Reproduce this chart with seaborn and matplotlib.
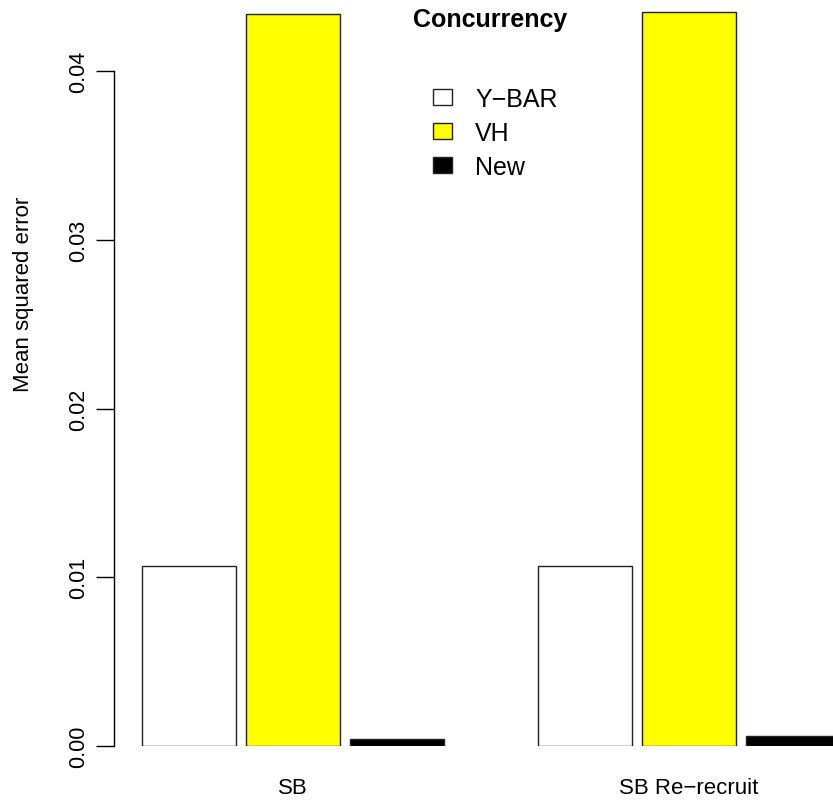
import matplotlib
matplotlib.use("Agg")
import matplotlib.pyplot as plt
import seaborn as sns
import pandas as pd

# values
groups = ["SB", "SB Re\u2212recruit"]
methods = ["Y\u2212BAR", "VH", "New"]
ybar_mse = [0.01068, 0.01068]
vh_mse = [0.04338, 0.04350]
new_mse = [0.00042, 0.00059]
colors = ["white", "yellow", "black"]

rows = []
for m, vals in zip(methods, [ybar_mse, vh_mse, new_mse]):
    for g, v in zip(groups, vals):
        rows.append({"group": g, "method": m, "mse": v})
df = pd.DataFrame(rows)

sns.set_style("ticks")
plt.rcParams["font.family"] = ["Liberation Sans", "DejaVu Sans"]
for key in ["text.color", "axes.labelcolor", "xtick.color", "ytick.color"]:
    plt.rcParams[key] = "black"

fig = plt.figure(figsize=(8.33, 8.03), dpi=100)
ax = fig.add_axes([114 / 833, 56 / 803, 719 / 833, 747 / 803])

sns.barplot(data=df, x="group", y="mse", hue="method", order=groups,
            hue_order=methods, palette=colors, saturation=1, width=0.788,
            gap=0.096, edgecolor="#222222", linewidth=1, ax=ax)

ax.set_xlim(-0.452, 1.3636)
ax.set_ylim(0, 0.04427)
ax.set_yticks([0.0, 0.01, 0.02, 0.03, 0.04])
ax.set_yticklabels(["0.00", "0.01", "0.02", "0.03", "0.04"], rotation=90,
                   va="center", fontsize=15.5)
ax.tick_params(axis="y", length=13, width=1, pad=5, color="black")
ax.tick_params(axis="x", length=0, pad=22, labelsize=16)
for s in ["top", "right", "bottom"]:
    ax.spines[s].set_visible(False)
ax.spines["left"].set_bounds(0, 0.04)
ax.spines["left"].set_linewidth(1)
ax.spines["left"].set_color("black")

ax.set_xlabel("")
ax.set_ylabel("Mean squared error", fontsize=16)
ax.yaxis.set_label_coords(-0.111, 0.606)

sns.move_legend(ax, loc="upper left", bbox_to_anchor=(433 / 833, 1 - 88 / 803),
                bbox_transform=fig.transFigure, frameon=False, title=None,
                fontsize=18, handlelength=0.76, handleheight=0.6,
                handletextpad=0.92, labelspacing=0.4, borderpad=0,
                borderaxespad=0)

fig.text(490 / 833, 1 - 20 / 803, "Concurrency", ha="center", va="center",
         fontsize=18, fontweight="bold")

fig.savefig("out.png", dpi=100)
